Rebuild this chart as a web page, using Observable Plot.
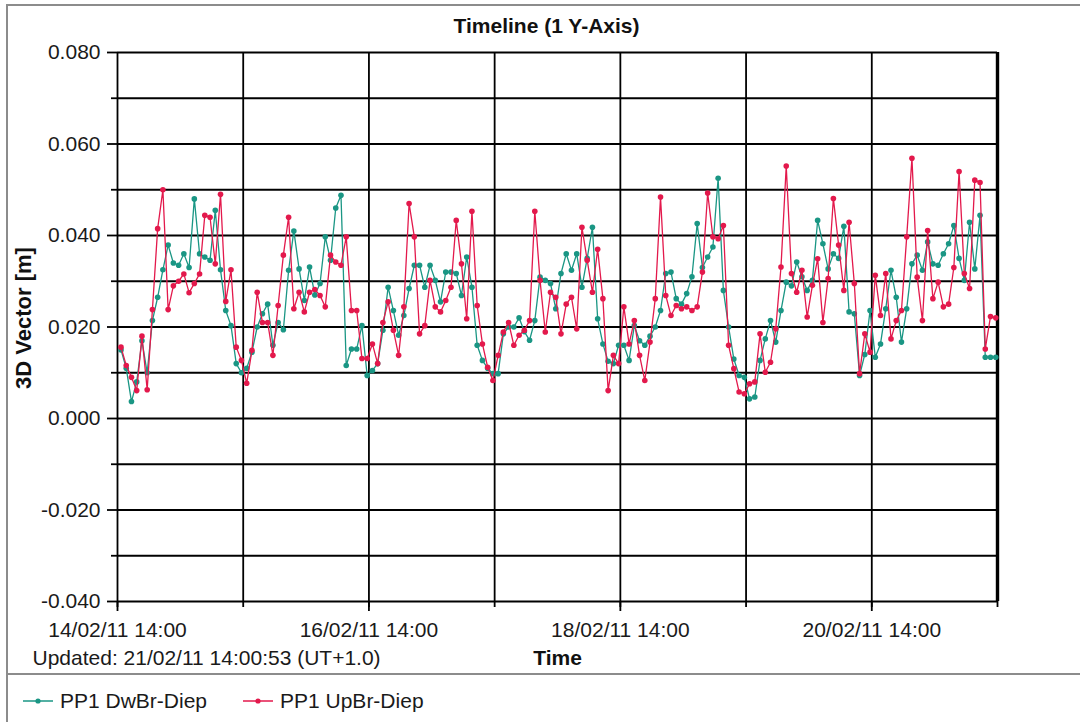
<!DOCTYPE html>
<html><head><meta charset="utf-8">
<script src="https://cdn.jsdelivr.net/npm/d3@7"></script>
<script src="https://cdn.jsdelivr.net/npm/@observablehq/plot@0.6"></script>
<style>
body{margin:0;background:#fff;font-family:"Liberation Sans",Arial,sans-serif;}
#wrap{position:relative;width:1080px;height:722px;overflow:hidden;background:#fff}
#chart{position:absolute;left:0;top:0}
.frame-left{position:absolute;left:6px;top:4px;width:2px;height:718px;background:#8c8c8c}
.frame-top{position:absolute;left:6px;top:4px;width:1074px;height:2px;background:#8c8c8c}
.sep{position:absolute;left:6px;top:673px;width:1074px;height:2px;background:#8c8c8c}
#legend{position:absolute;left:0;top:676px;height:46px;width:1080px;font-size:21px;color:#1a1a1a}
.item{position:absolute;top:13px;display:flex;align-items:center;line-height:24px}
.item svg{margin-right:7px}
</style></head><body>
<div id="wrap">
<div id="chart"></div>
<div class="frame-left"></div><div class="frame-top"></div><div class="sep"></div>
<div id="legend"></div>
</div>
<script>
// ---- data (values in millimetres, hourly readings) ----
const seriesNames = ["PP1 DwBr-Diep", "PP1 UpBr-Diep"];
const seriesColors = ["#1a9684", "#e3194c"];
const startTime = Date.UTC(2011, 1, 14, 14, 40); // first reading
const stepMs = 3600 * 1000;                       // hourly readings

const dwBrMm = [
  15, 11, 3.7, 8, 17, 10, 21.4, 26.5, 32.5, 37.9, 34, 33.5, 36, 33, 48, 36, 35.3, 34.6, 45.5, 32.5, 23.6, 20.3, 12, 10,
  11, 14.5, 20, 22.9, 25, 16, 21, 19.4, 32.4, 41, 32.7, 25.8, 33.1, 27, 29.5, 39.7, 34.6, 46, 48.8, 11.6, 15.2, 15.2, 20.3, 9.4,
  10.5, 12, 19.3, 28.7, 23.6, 18.2, 22.5, 28.4, 33.5, 33.5, 28.7, 33.5, 30.2, 25.5, 32, 32, 31.7, 26.9, 35.3, 28.7, 16, 12.7, 11, 9.8,
  9.8, 18.5, 20, 20, 22, 19, 17.1, 21.4, 30.9, 30.2, 29.5, 24, 31.7, 36, 32.4, 36, 28.7, 35, 41.8, 21.8, 16.3, 12.5, 12, 16,
  16, 12.7, 20.3, 17, 16, 18, 20, 23.6, 31.7, 32, 26.2, 25, 27.3, 31, 42.6, 33, 35.3, 37.5, 52.5, 28, 20, 13, 9.4, 9,
  4.3, 4.7, 12.7, 17.4, 21.4, 16.7, 23.6, 29.8, 29, 34.2, 31, 28, 30.2, 43.3, 38.2, 32.7, 36, 35, 42, 23.3, 22.9, 9.4, 14, 23.6,
  13.4, 16.3, 24, 32.4, 26.5, 16.7, 24, 33.8, 35.7, 32.4, 38.6, 33.8, 33.5, 36, 38.2, 42.2, 35, 30.2, 42.9, 32.7, 44.4, 13.4, 13.4, 13.4
];
const upBrMm = [
  15.6, 11.6, 9, 6.1, 18, 6.3, 23.8, 41.5, 50, 23.8, 29, 30, 31.6, 27.5, 29.5, 31.6, 44.4, 44, 33.8, 49, 25.6, 32.5, 15.6, 12.7,
  7.7, 14.9, 27.6, 21, 21, 13.8, 24.7, 35.7, 44, 24, 27.6, 23.3, 27.6, 28.2, 26.9, 24.4, 35.7, 34.2, 33.5, 39.7, 23.6, 23.6, 13.1, 13.1,
  16.3, 12, 21, 25.5, 19.3, 13.8, 24.4, 47, 39.7, 18.5, 20.3, 30.2, 24.4, 23.3, 25.8, 28.7, 43.3, 33.8, 21.8, 45.3, 24.7, 16.3, 11.2, 8.3,
  13.8, 18.9, 21, 16, 18.2, 19.3, 21.4, 45.3, 30.2, 18.9, 27.6, 26.5, 18.5, 25, 26.5, 19.6, 41.8, 34.6, 27.6, 37, 26.2, 6.1, 13.8, 12,
  24.4, 16.3, 21.4, 13.8, 8.3, 16.7, 26.2, 48.4, 26.9, 22.5, 24.7, 24, 24.4, 23.6, 24.4, 32, 49.3, 39.7, 39.3, 42.2, 16, 10.9, 5.8, 5.4,
  7.6, 8, 18.5, 10.1, 12.3, 19.6, 33.1, 55.2, 31.7, 27.6, 32.4, 22.2, 29.1, 34.9, 21, 30.6, 48.1, 37.9, 28, 42.9, 29.5, 9.8, 18.5, 14.5,
  31.3, 22.5, 31.7, 17.4, 21.4, 23.6, 39.7, 56.9, 30.9, 21.4, 41.1, 26.2, 29.8, 24.4, 25, 33, 54, 31.7, 28.4, 52.1, 51.6, 15.2, 22.3, 22
];

const yMajorTicks = [-0.04, -0.02, 0, 0.02, 0.04, 0.06, 0.08];
const yMinorTicks = [-0.03, -0.01, 0.01, 0.03, 0.05, 0.07];
const xTickDays = [14, 15, 16, 17, 18, 19, 20, 21];
const xLabelDays = [14, 16, 18, 20];
const titleText = "Timeline (1 Y-Axis)";
const yLabel = "3D Vector [m]";
const xLabel = "Time";
const updatedText = "Updated: 21/02/11 14:00:53 (UT+1.0)";

// ---- build table ----
function toRows(mm, name) {
  return mm.map((v, i) => ({t: new Date(startTime + i * stepMs), v: v / 1000, s: name}));
}
const rowsDw = toRows(dwBrMm, seriesNames[0]);
const rowsUp = toRows(upBrMm, seriesNames[1]);

const dayDate = d => new Date(Date.UTC(2011, 1, d, 14, 0));
const dayTicks = xTickDays.map(dayDate);
const labelTicks = xLabelDays.map(dayDate);
const x0 = dayTicks[0], x1 = dayTicks[dayTicks.length - 1];
const fmtDate = d3.utcFormat("%d/%m/%y %H:%M");
const fmtY = v => v.toFixed(3);
const FONT = "Liberation Sans, Arial, Helvetica, sans-serif";

const chart = Plot.plot({
  width: 1080, height: 672,
  marginLeft: 117, marginRight: 83, marginTop: 52, marginBottom: 71,
  x: {type: "utc", domain: [x0, x1]},
  y: {domain: [-0.04, 0.08]},
  color: {domain: seriesNames, range: seriesColors},
  style: {fontFamily: FONT, fontSize: "21px", color: "#1a1a1a", background: "transparent", overflow: "visible"},
  marks: [
    Plot.ruleY([...yMajorTicks, ...yMinorTicks], {stroke: "#000", strokeWidth: 1.8}),
    Plot.ruleX(dayTicks, {stroke: "#000", strokeWidth: 1.8}),
    Plot.ruleX([x1], {stroke: "#000", strokeWidth: 3.4}),
    Plot.axisY(yMajorTicks, {tickSize: 10, tickPadding: 7, tickFormat: fmtY, label: null, stroke: "#000", strokeWidth: 1.8, fontSize: 21}),
    Plot.axisY(yMinorTicks, {tickSize: 6, fill: "none", label: null, stroke: "#000", strokeWidth: 1.8}),
    Plot.axisX(dayTicks, {tickSize: 6, fill: "none", label: null, stroke: "#000", strokeWidth: 1.8}),
    Plot.axisX(labelTicks, {tickSize: 10, tickPadding: 11, tickFormat: fmtDate, label: null, stroke: "#000", strokeWidth: 1.8, fontSize: 21}),
    Plot.line(rowsDw, {x: "t", y: "v", stroke: "s", strokeWidth: 1.3}),
    Plot.dot(rowsDw, {x: "t", y: "v", fill: "s", r: 2.8}),
    Plot.line(rowsUp, {x: "t", y: "v", stroke: "s", strokeWidth: 1.3}),
    Plot.dot(rowsUp, {x: "t", y: "v", fill: "s", r: 2.8}),
    Plot.text([titleText], {frameAnchor: "top", lineAnchor: "middle", dx: -11, dy: -26, fontWeight: "bold", fontSize: 21, fill: "#111"}),
    Plot.text([yLabel], {frameAnchor: "left", textAnchor: "middle", lineAnchor: "middle", dx: -94, dy: -9, rotate: -90, fontWeight: "bold", fontSize: 22, fill: "#111"}),
    Plot.text([xLabel], {frameAnchor: "bottom", lineAnchor: "middle", dy: 57, fontWeight: "bold", fontSize: 21, fill: "#111"}),
    Plot.text([updatedText], {frameAnchor: "bottom-left", textAnchor: "start", lineAnchor: "middle", dx: -85, dy: 57, fontSize: 21, fill: "#1a1a1a"})
  ]
});
document.getElementById("chart").appendChild(chart);

// ---- legend ----
const legend = document.getElementById("legend");
const legendLefts = [23, 243];
seriesNames.forEach((name, i) => {
  const item = document.createElement("div");
  item.className = "item";
  item.style.left = legendLefts[i] + "px";
  item.innerHTML = `<svg width="30" height="12"><line x1="0" y1="6" x2="30" y2="6" stroke="${seriesColors[i]}" stroke-width="1.5"/><circle cx="15" cy="6" r="2.6" fill="${seriesColors[i]}"/></svg><span>${name}</span>`;
  legend.appendChild(item);
});
</script>
</body></html>
